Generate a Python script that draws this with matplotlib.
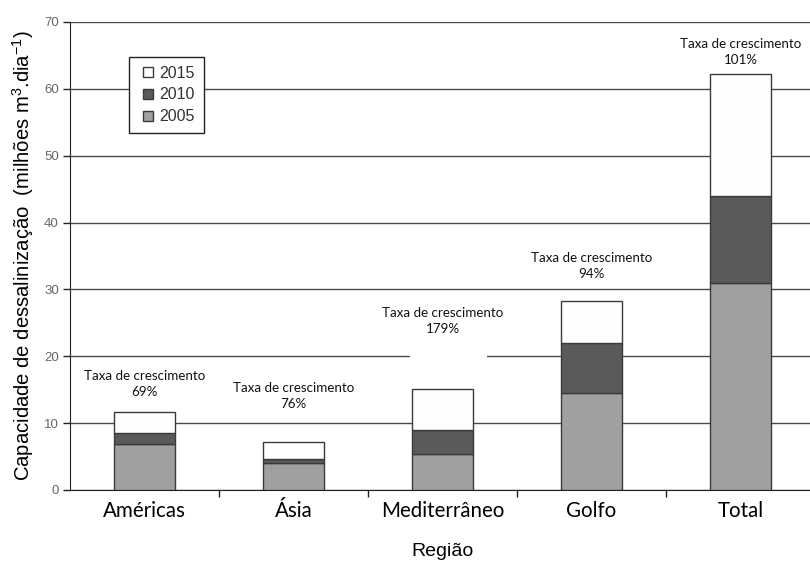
import matplotlib
matplotlib.use("Agg")
import matplotlib.pyplot as plt
from matplotlib.patches import Rectangle
from matplotlib.lines import Line2D
import numpy as np

plt.rcParams['mathtext.fontset'] = 'custom'
plt.rcParams['mathtext.rm'] = 'Liberation Sans'
plt.rcParams['mathtext.it'] = 'Liberation Sans'

regioes = ["Américas", "Ásia", "Mediterrâneo", "Golfo", "Total"]
cap_2005 = [6.9, 4.0, 5.4, 14.5, 31.0]
cap_2010 = [8.5, 4.6, 9.0, 22.0, 44.0]
cap_2015 = [11.7, 7.2, 15.1, 28.3, 62.2]
taxas = ["69%", "76%", "179%", "94%", "101%"]
rotulo_y = [15.85, 14.0, 25.35, 33.5, 65.45]
anos = ["2015", "2010", "2005"]

fig = plt.figure(figsize=(8.1, 5.61), dpi=100)
ax = fig.add_axes([70 / 810, 1 - 490 / 561, 745 / 810, 468 / 561])

x = np.arange(len(regioes))
w = 0.41
edge = "#3a3a3a"
cores = {"2005": "#a0a0a0", "2010": "#5a5a5a", "2015": "#fefefe"}
seg_2005 = np.array(cap_2005)
seg_2010 = np.array(cap_2010) - seg_2005
seg_2015 = np.array(cap_2015) - np.array(cap_2010)

ax.bar(x, seg_2005, w, color=cores["2005"], edgecolor=edge, linewidth=1, zorder=3)
ax.bar(x, seg_2010, w, bottom=seg_2005, color=cores["2010"], edgecolor=edge, linewidth=1, zorder=3)
ax.bar(x, seg_2015, w, bottom=np.array(cap_2010), color=cores["2015"], edgecolor=edge, linewidth=1, zorder=3)

ax.set_xlim(-0.5, 4.5)
ax.set_ylim(0, 70)
ax.set_yticks(np.arange(0, 71, 10))
ax.yaxis.grid(True, color="#4a4a4a", linewidth=1, zorder=0)
ax.set_axisbelow(True)
for s in ["top", "right"]:
    ax.spines[s].set_visible(False)
ax.spines["left"].set_color("#222222")
ax.spines["bottom"].set_color("#222222")

ax.tick_params(axis="y", direction="out", length=5, width=1, colors="#222222",
               labelcolor="#666666", labelsize=9.5, pad=3)
for t in ax.get_yticklabels():
    t.set_fontfamily("Liberation Sans")

ax.set_xticks(x)
ax.set_xticklabels(regioes, fontfamily="Lato", fontsize=14.8)
ax.tick_params(axis="x", length=0, pad=8)
ax.set_xticks(np.arange(0.5, 4.5, 1), minor=True)
ax.tick_params(axis="x", which="minor", direction="out", length=5, width=1, colors="#222222")

# white patch behind the Mediterranean label
ax.add_patch(Rectangle((1.78, 16.0), 0.52, 5.5, facecolor="white", edgecolor="none", zorder=2))

for xi, taxa, yy in zip(x, taxas, rotulo_y):
    ax.text(xi, yy, "Taxa de crescimento\n" + taxa, ha="center", va="center",
            fontfamily="Lato", fontsize=9.6, linespacing=1.4, color="#111111", zorder=4)

ax.set_ylabel(r"Capacidade de dessalinização  (milhões m$^{3}$.dia$^{-1}$)",
              fontfamily="Liberation Sans", fontsize=14.6, labelpad=6)
ax.set_xlabel("Região", fontfamily="Liberation Sans", fontsize=14, labelpad=16)

handles = [Line2D([], [], linestyle="none", marker="s", markersize=6.5,
                  markerfacecolor=cores[a], markeredgecolor=edge, markeredgewidth=1)
           for a in anos]
leg = ax.legend(handles=handles, labels=anos,
                loc="upper left", bbox_to_anchor=(129 / 810, 1 - 57 / 561),
                bbox_transform=fig.transFigure, frameon=True, fancybox=False,
                edgecolor="#222222", framealpha=1, handlelength=1.3,
                handletextpad=0.05, borderpad=0.55, labelspacing=0.42, borderaxespad=0,
                prop={"family": "Liberation Sans", "size": 11.5})
leg.get_frame().set_linewidth(1)
for t in leg.get_texts():
    t.set_color("#333333")

fig.savefig("out.png", dpi=100)
